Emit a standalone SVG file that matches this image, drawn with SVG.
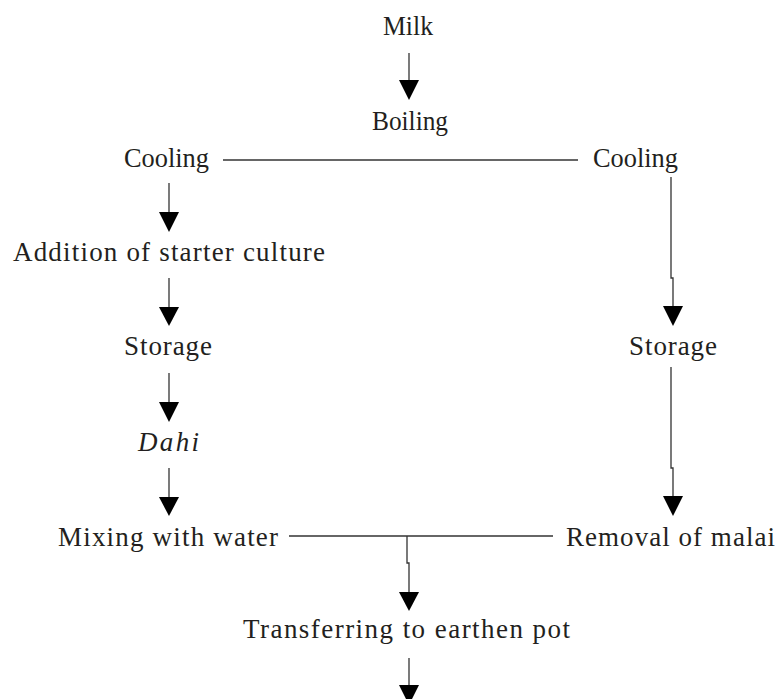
<svg xmlns="http://www.w3.org/2000/svg" width="779" height="699" viewBox="0 0 779 699">
<style>
text{font-family:"Liberation Serif","Times New Roman",serif;font-size:27px;fill:#231f20}
.it{font-style:italic}
.ln{stroke:#333;stroke-width:1.3;fill:none}
.hd{fill:#000}
</style>
<rect width="779" height="699" fill="#fff"/>
<g id="connectors">
<line class="ln" x1="409" y1="53" x2="409" y2="82"/><polygon class="hd" points="399,80 419,80 409,100"/>
<line class="ln" x1="223" y1="160" x2="578" y2="160"/>
<line class="ln" x1="169" y1="183" x2="169" y2="214"/><polygon class="hd" points="159,212 179,212 169,232"/>
<line class="ln" x1="169" y1="278" x2="169" y2="309"/><polygon class="hd" points="159,307 179,307 169,326"/>
<line class="ln" x1="169" y1="373" x2="169" y2="404"/><polygon class="hd" points="159,402 179,402 169,422"/>
<line class="ln" x1="169" y1="468" x2="169" y2="499"/><polygon class="hd" points="159,497 179,497 169,516"/>
<path class="ln" d="M671,177V278H673V308"/><polygon class="hd" points="663,306 683,306 673,326"/>
<path class="ln" d="M671,367V468H673V498"/><polygon class="hd" points="663,496 683,496 673,516"/>
<line class="ln" x1="289" y1="536" x2="553" y2="536"/>
<path class="ln" d="M407,536V563H409V594"/><polygon class="hd" points="399,592 419,592 409,611"/>
<line class="ln" x1="409" y1="658" x2="409" y2="687"/><polygon class="hd" points="399,685 419,685 409,705"/>
</g>
<g id="milk"><text x="383" y="35" textLength="50" lengthAdjust="spacingAndGlyphs">Milk</text></g>
<g id="boiling"><text x="372" y="130" textLength="76" lengthAdjust="spacingAndGlyphs">Boiling</text></g>
<g id="cooling-left"><text x="124" y="167" textLength="85" lengthAdjust="spacingAndGlyphs">Cooling</text></g>
<g id="cooling-right"><text x="593" y="167" textLength="85" lengthAdjust="spacingAndGlyphs">Cooling</text></g>
<g id="addition"><text x="13" y="261" textLength="312" lengthAdjust="spacing">Addition of starter culture</text></g>
<g id="storage-left"><text x="124" y="355" textLength="88" lengthAdjust="spacing">Storage</text></g>
<g id="storage-right"><text x="629" y="355" textLength="88" lengthAdjust="spacing">Storage</text></g>
<g id="dahi"><text class="it" x="138" y="451" textLength="61" lengthAdjust="spacing">Dahi</text></g>
<g id="mixing"><text x="58" y="546" textLength="220" lengthAdjust="spacing">Mixing with water</text></g>
<g id="removal"><text x="566" y="546" textLength="209" lengthAdjust="spacing">Removal of malai</text></g>
<g id="transferring"><text x="243" y="638" textLength="327" lengthAdjust="spacing">Transferring to earthen pot</text></g>
</svg>
